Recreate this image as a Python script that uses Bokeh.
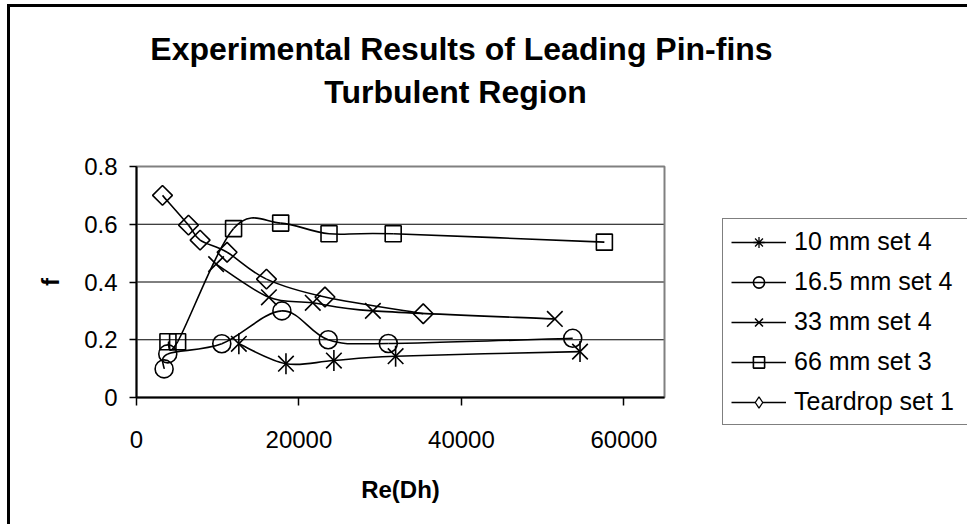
import math
from bokeh.plotting import figure
from bokeh.models import (Range1d, FixedTicker, NumeralTickFormatter, Legend, LegendItem,
                          Label, BoxAnnotation, LinearAxis)
from bokeh.embed import file_html
from bokeh.resources import INLINE

# ---------------- data ----------------
mm10_x = [12600, 18400, 24300, 31900, 54600]
mm10_y = [0.186, 0.117, 0.128, 0.143, 0.159]

mm165_x = [3400, 3850, 10500, 17900, 23600, 31000, 53700]
mm165_y = [0.099, 0.151, 0.186, 0.300, 0.200, 0.187, 0.205]

mm33_x = [9800, 16300, 21700, 29100, 51500]
mm33_y = [0.462, 0.347, 0.328, 0.300, 0.272]

mm66_x = [3870, 5060, 11950, 17750, 23700, 31600, 57600]
mm66_y = [0.193, 0.193, 0.585, 0.604, 0.567, 0.567, 0.538]

tear_x = [3200, 6400, 7830, 11150, 16000, 23200, 35300]
tear_y = [0.700, 0.597, 0.545, 0.503, 0.410, 0.348, 0.290]

series_labels = ["10 mm set 4", "16.5 mm set 4", "33 mm set 4", "66 mm set 3", "Teardrop set 1"]
x_ticks = [0, 20000, 40000, 60000]
y_ticks = [0, 0.2, 0.4, 0.6, 0.8]
X_MAX = 65000
Y_MAX = 0.8
title_lines = ["Experimental Results of Leading Pin-fins", "Turbulent Region"]
x_label = "Re(Dh)"
y_label = "f"

FONT = "Liberation Sans"

# ---------------- layout (pixels) ----------------
W, H = 967, 524
PA_LEFT, PA_RIGHT, PA_TOP, PA_BOTTOM = 136, 664, 166, 397   # plot area in the picture

kx = (PA_RIGHT - PA_LEFT) / X_MAX
ky = (PA_BOTTOM - PA_TOP) / Y_MAX
x_start = -PA_LEFT / kx
y_start = -(H - PA_BOTTOM) / ky


def smooth_segments(xs, ys):
    """Bezier control points for a smoothed (Catmull-Rom style) line through the data."""
    n = len(xs)
    out = dict(x0=[], y0=[], x1=[], y1=[], cx0=[], cy0=[], cx1=[], cy1=[])
    for i in range(n - 1):
        a = i - 1 if i > 0 else i
        d = i + 2 if i + 2 < n else i + 1
        out["x0"].append(xs[i]); out["y0"].append(ys[i])
        out["x1"].append(xs[i + 1]); out["y1"].append(ys[i + 1])
        out["cx0"].append(xs[i] + (xs[i + 1] - xs[a]) / 6.0)
        out["cy0"].append(ys[i] + (ys[i + 1] - ys[a]) / 6.0)
        out["cx1"].append(xs[i + 1] - (xs[d] - xs[i]) / 6.0)
        out["cy1"].append(ys[i + 1] - (ys[d] - ys[i]) / 6.0)
    return out


p = figure(width=W, height=H, output_backend="svg", toolbar_location=None, title=None,
           x_range=Range1d(x_start, x_start + W / kx),
           y_range=Range1d(y_start, y_start + H / ky),
           x_axis_location=None, y_axis_location=None,
           min_border_left=0, min_border_right=0, min_border_top=0, min_border_bottom=0)
p.background_fill_alpha = 0
p.border_fill_alpha = 0
# white page with the chart border (only its left and top edges fall inside the picture)
p.styles = {
    "background": "linear-gradient(#000,#000) 7px 4px / 3px 900px no-repeat, "
                  "linear-gradient(#000,#000) 7px 4px / 1400px 3px no-repeat, #fff"
}
p.outline_line_color = None
p.xgrid.visible = False
p.ygrid.visible = False

# plot-area frame (grey)
p.add_layout(BoxAnnotation(left=0, right=X_MAX, bottom=0, top=Y_MAX,
                           fill_alpha=0, line_alpha=1,
                           line_color="#808080", line_width=2, level="underlay"))

# horizontal gridlines
grid_y = [t for t in y_ticks if 0 < t < Y_MAX]
p.segment(x0=[0] * len(grid_y), y0=grid_y, x1=[X_MAX] * len(grid_y), y1=grid_y,
          line_color="black", line_width=1, level="underlay")

# axes
xaxis = LinearAxis(fixed_location=0, bounds=(0, X_MAX), ticker=FixedTicker(ticks=x_ticks),
                   formatter=NumeralTickFormatter(format="0"), axis_label=x_label)
yaxis = LinearAxis(fixed_location=0, bounds=(0, Y_MAX), ticker=FixedTicker(ticks=y_ticks),
                   formatter=NumeralTickFormatter(format="0.[0]"), axis_label=y_label)
for ax in (xaxis, yaxis):
    ax.axis_line_color = "black"
    ax.axis_line_width = 2
    ax.major_tick_line_color = "black"
    ax.major_tick_line_width = 1.5
    ax.major_tick_in = 0
    ax.minor_tick_line_color = None
    ax.major_label_text_font = FONT
    ax.major_label_text_font_size = "24px"
    ax.major_label_text_color = "black"
    ax.axis_label_text_font = FONT
    ax.axis_label_text_font_size = "24px"
    ax.axis_label_text_font_style = "bold"
    ax.axis_label_text_color = "black"
xaxis.major_tick_out = 8
yaxis.major_tick_out = 7
xaxis.major_label_standoff = 25
yaxis.major_label_standoff = 12
xaxis.axis_label_standoff = 25
yaxis.axis_label_standoff = 17
p.add_layout(xaxis, "below")
p.add_layout(yaxis, "left")

LW = 1.6
items = []

# 10 mm set 4 : asterisk (x + vertical bar)
b = p.bezier(**smooth_segments(mm10_x, mm10_y), line_color="black", line_width=LW)
p.scatter(mm10_x, mm10_y, marker="x", size=22, line_color="black", line_width=LW)
p.scatter(mm10_x, mm10_y, marker="dash", angle=math.pi / 2, size=21,
          line_color="black", line_width=LW)
# zero-size copy that only serves as the legend symbol
lg = p.scatter(mm10_x, mm10_y, marker="asterisk", size=0, line_color="black", line_width=1.3)
items.append(LegendItem(label=series_labels[0], renderers=[b, lg]))

# 16.5 mm set 4 : circle
b = p.bezier(**smooth_segments(mm165_x, mm165_y), line_color="black", line_width=LW)
s1 = p.scatter(mm165_x, mm165_y, marker="circle", size=18, fill_alpha=0,
               line_color="black", line_width=LW)
items.append(LegendItem(label=series_labels[1], renderers=[b, s1]))

# 33 mm set 4 : x
b = p.bezier(**smooth_segments(mm33_x, mm33_y), line_color="black", line_width=LW)
s1 = p.scatter(mm33_x, mm33_y, marker="x", size=22, line_color="black", line_width=LW)
items.append(LegendItem(label=series_labels[2], renderers=[b, s1]))

# 66 mm set 3 : square
b = p.bezier(**smooth_segments(mm66_x, mm66_y), line_color="black", line_width=LW)
s1 = p.scatter(mm66_x, mm66_y, marker="square", size=16, fill_alpha=0,
               line_color="black", line_width=LW)
items.append(LegendItem(label=series_labels[3], renderers=[b, s1]))

# Teardrop set 1 : diamond
b = p.bezier(**smooth_segments(tear_x, tear_y), line_color="black", line_width=LW)
p.scatter(tear_x, tear_y, marker="square", angle=math.pi / 4, size=14, fill_alpha=0,
          line_color="black", line_width=LW)
lg = p.scatter(tear_x, tear_y, marker="diamond", size=0, fill_color="white", fill_alpha=1,
               line_color="black", line_width=1.3)
items.append(LegendItem(label=series_labels[4], renderers=[b, lg]))

legend = Legend(items=items, location=(722, H - 425), margin=0, padding=8,
                spacing=11, glyph_width=55, glyph_height=28, label_height=28,
                label_width=180, label_standoff=8,
                label_text_font=FONT, label_text_font_size="25px", label_text_color="black",
                border_line_color="black", border_line_width=1.5,
                background_fill_color="white", background_fill_alpha=1)
p.add_layout(legend)

# two-line chart title
for txt, cx, cy in zip(title_lines, [461, 455], [48, 91]):
    p.add_layout(Label(x=cx, y=H - cy, x_units="screen", y_units="screen", text=txt,
                       text_align="center", text_baseline="middle",
                       text_font=FONT, text_font_size="32px", text_font_style="bold",
                       text_color="black"))

open("out.html", "w").write(file_html(p, INLINE))
